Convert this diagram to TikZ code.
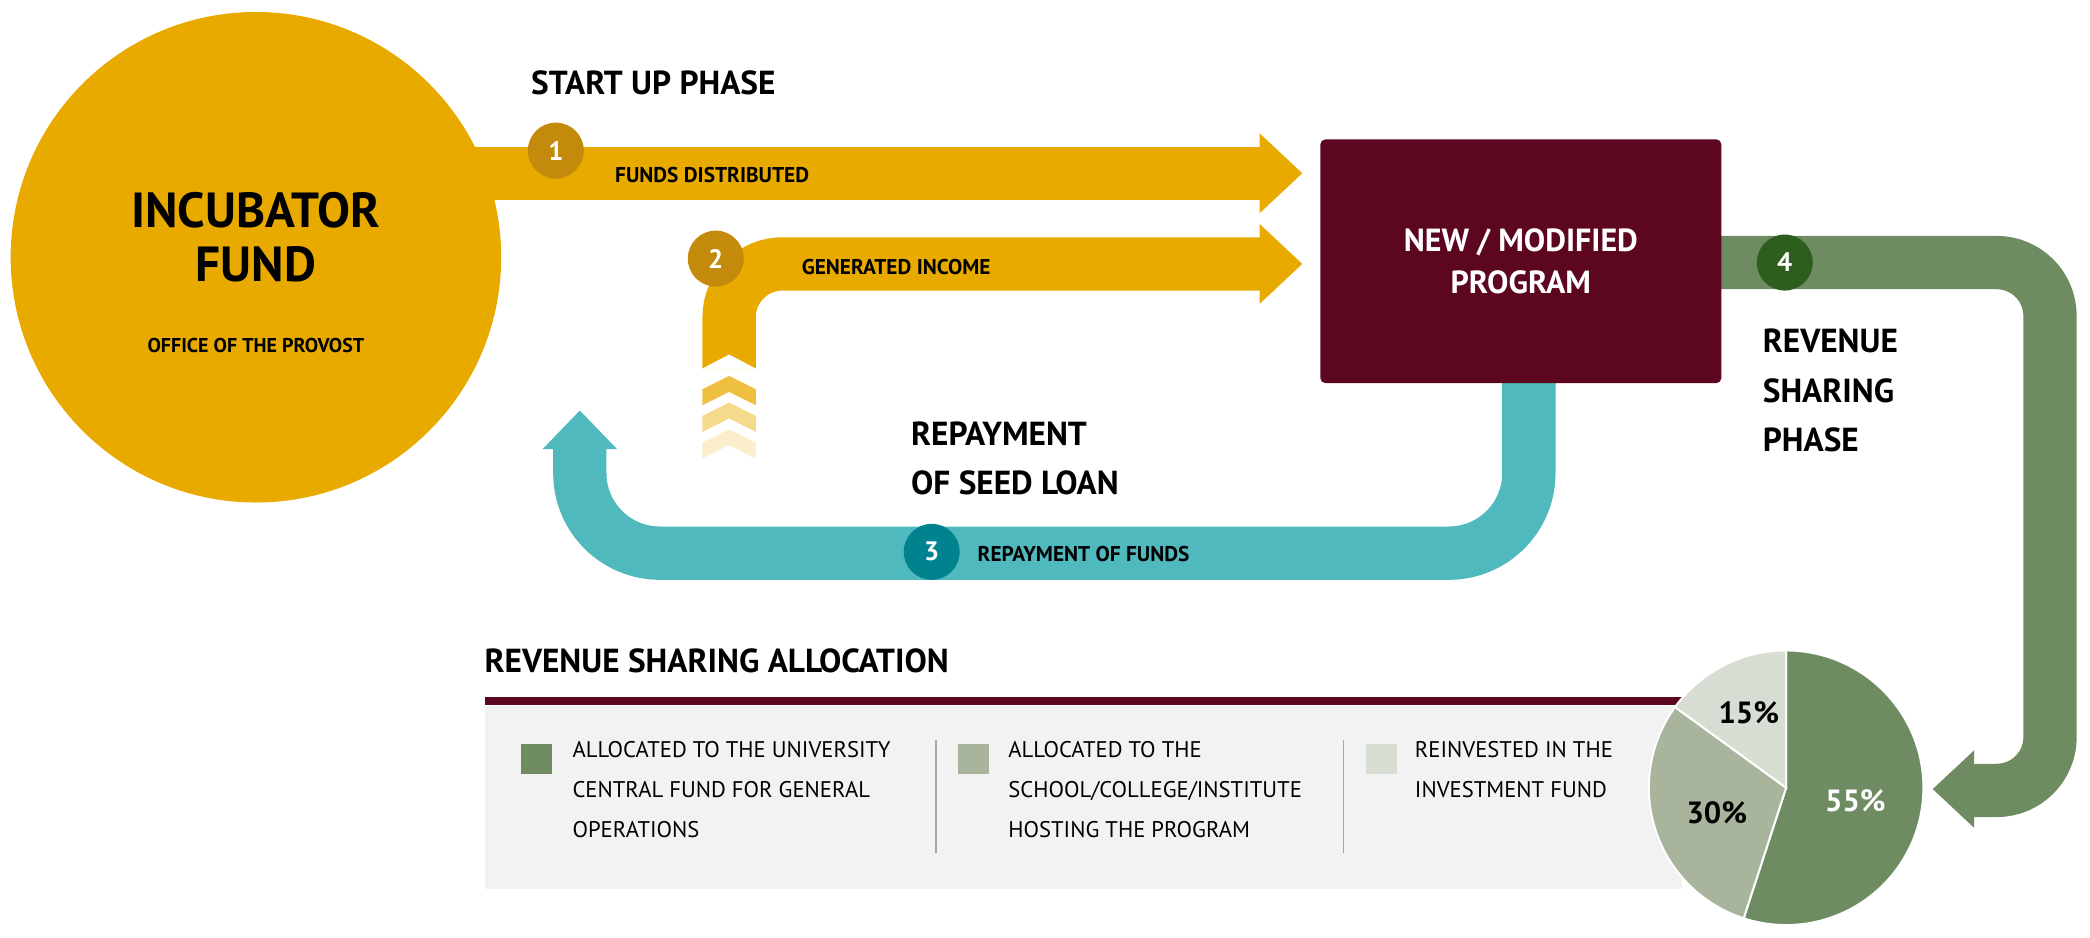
\documentclass[tikz,border=0pt]{standalone}
\usepackage{fontspec}
\setmainfont{PT Sans}
\begin{document}
\definecolor{gold}{HTML}{E9AA00}
\definecolor{golddk}{HTML}{C48A0C}
\definecolor{maroon}{HTML}{5C0620}
\definecolor{teal}{HTML}{4FB9BE}
\definecolor{tealdk}{HTML}{00838F}
\definecolor{grn}{HTML}{6E8B62}
\definecolor{grndk}{HTML}{2E5E1E}
\definecolor{grnmd}{HTML}{A8B59C}
\definecolor{grnlt}{HTML}{D8DDD4}
\begin{tikzpicture}[x=1pt,y=-1pt,
  band/.style={line width=40pt,line cap=butt,line join=round},
  badge/.style={circle,minimum size=42pt,inner sep=0pt,text=white,font=\bfseries\fontsize{20}{20}\selectfont},
  lbl/.style={anchor=west,font=\bfseries\fontsize{16}{16}\selectfont},
  big/.style={anchor=west,font=\bfseries\fontsize{25}{37}\selectfont,align=left},
  leg/.style={anchor=north west,font=\fontsize{17}{30}\selectfont,align=left}]
\useasboundingbox (0,0) rectangle (1568,703);
% arrow 1
\draw[band,gold] (300,130) -- (946,130);
\fill[gold] (945,100) -- (977,130) -- (945,160) -- cycle;
% arrow 2
\draw[band,gold,rounded corners=40pt] (547,277) -- (547,198) -- (946,198);
\fill[gold] (945,168) -- (977,198) -- (945,228) -- cycle;
\fill[white] (526,277) -- (547,266) -- (568,277) -- cycle;
\foreach \y/\o in {282/0.75,302/0.45,322/0.2}
  \fill[gold,opacity=\o] (527,\y+10) -- (547,\y) -- (567,\y+10) -- (567,\y+22) -- (547,\y+12) -- (527,\y+22) -- cycle;
% circle
\node[circle,fill=gold,minimum size=368pt,inner sep=0pt] (inc) at (192,193) {};
\node[font=\bfseries\fontsize{37}{40}\selectfont,align=center] (inct) at (192,178) {INCUBATOR\\FUND};
\node[font=\bfseries\fontsize{15}{15}\selectfont] (incs) at (192,259) {OFFICE OF THE PROVOST};
% teal
\draw[band,teal,rounded corners=60pt] (1147,280) -- (1147,415) -- (435,415) -- (435,336);
\fill[teal] (407,337) -- (435,308) -- (463,337) -- cycle;
% green
\draw[band,grn,rounded corners=40pt] (1280,197) -- (1538,197) -- (1538,593) -- (1479,593);
\fill[grn] (1481,563) -- (1450,592) -- (1481,621) -- cycle;
% box
\node[fill=maroon,rounded corners=4pt,minimum width=301pt,minimum height=183pt,text=white,font=\bfseries\fontsize{24}{32}\selectfont,align=center] (box) at (1141,196) {NEW / MODIFIED\\PROGRAM};
% badges
\node[badge,fill=golddk] (b1) at (417,113) {1};
\node[badge,fill=golddk] (b2) at (537,194) {2};
\node[badge,fill=tealdk] (b3) at (699,414) {3};
\node[badge,fill=grndk] (b4) at (1339,197) {4};
% labels
\node[big] (t1) at (395,62) {START UP PHASE};
\node[lbl] (t2) at (458,131) {FUNDS DISTRIBUTED};
\node[lbl] (t3) at (598,200) {GENERATED INCOME};
\node[big] (t4) at (680,344) {REPAYMENT\\OF SEED LOAN};
\node[lbl] (t5) at (730,416) {REPAYMENT OF FUNDS};
\node[big] (t6) at (1319,293) {REVENUE\\SHARING\\PHASE};
\node[big] (t7) at (360,496) {REVENUE SHARING ALLOCATION};
% panel
\fill[black!5] (364,530) rectangle (1262,667);
\draw[maroon,line width=6pt] (364,526) -- (1265,526);
\draw[gray!70,line width=1.2pt] (702,555) -- (702,640) (1008,555) -- (1008,640);
\fill[grn] (391,558) rectangle (414,581);
\fill[grnmd] (719,558) rectangle (742,581);
\fill[grnlt] (1025,558) rectangle (1048,581);
\node[leg] (l1) at (426,553) {ALLOCATED TO THE UNIVERSITY\\CENTRAL FUND FOR GENERAL\\OPERATIONS};
\node[leg] (l2) at (753,553) {ALLOCATED TO THE\\SCHOOL/COLLEGE/INSTITUTE\\HOSTING THE PROGRAM};
\node[leg] (l3) at (1058,553) {REINVESTED IN THE\\INVESTMENT FUND};
% pie
\coordinate (pc) at (1340,591);
\filldraw[fill=grn,draw=white,line width=1.5pt] (pc) -- ++(0,-103) arc[start angle=90,end angle=-108,radius=103pt] -- cycle;
\filldraw[fill=grnmd,draw=white,line width=1.5pt] (pc) -- ++({103*cos(-108)},{-103*sin(-108)}) arc[start angle=-108,end angle=-216,radius=103pt] -- cycle;
\filldraw[fill=grnlt,draw=white,line width=1.5pt] (pc) -- ++({103*cos(144)},{-103*sin(144)}) arc[start angle=144,end angle=90,radius=103pt] -- cycle;
\node[font=\bfseries\fontsize{23}{23}\selectfont,text=white] (p1) at (1392,601) {55\%};
\node[font=\bfseries\fontsize{23}{23}\selectfont] (p2) at (1288,610) {30\%};
\node[font=\bfseries\fontsize{23}{23}\selectfont] (p3) at (1312,535) {15\%};
\end{tikzpicture}
\end{document}
